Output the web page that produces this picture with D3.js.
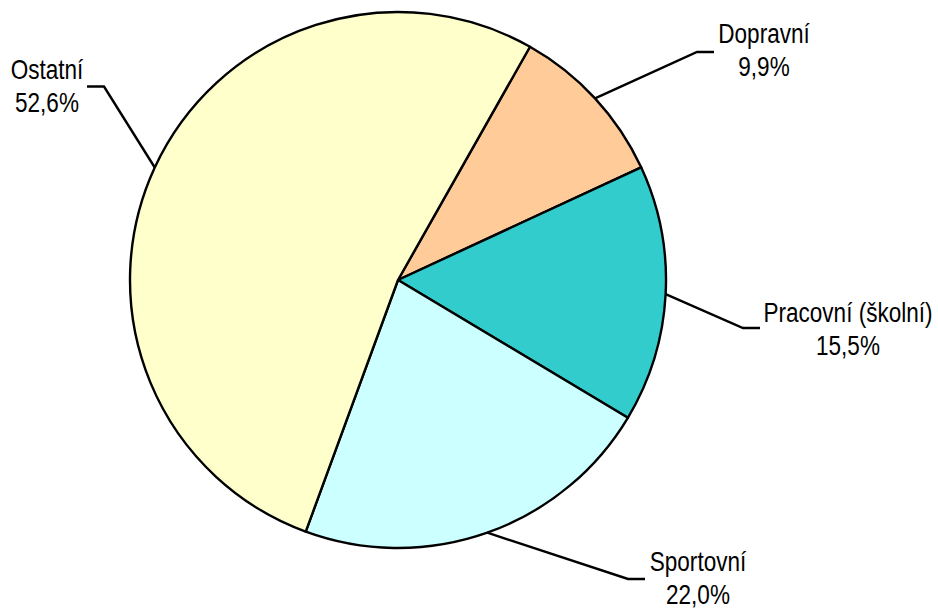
<!DOCTYPE html>
<html>
<head>
<meta charset="utf-8">
<script src="https://cdn.jsdelivr.net/npm/d3@7"></script>
<style>
  body { margin: 0; background: #fff; }
  svg { display: block; }
  .lbl { font-family: "Liberation Sans", Arial, sans-serif; font-size: 27.5px; fill: #000; }
</style>
</head>
<body>
<div id="chart"></div>
<script>
// data - urazy podle druhu
var categories = ["Dopravní", "Pracovní (školní)", "Sportovní", "Ostatní"];
var values = [9.9, 15.5, 22.0, 52.6];
var valueLabels = ["9,9%", "15,5%", "22,0%", "52,6%"];
var colors = ["#FFCC99", "#33CCCC", "#CCFFFF", "#FFFFCC"];

// rozmisteni popisku (stred textu, konec vodici cary)
var labelPos = [
    { tx: 764, ty: 43, lx: 714, ly: 52, dir: 1 },
    { tx: 848, ty: 322, lx: 760, ly: 328, dir: 1 },
    { tx: 698, ty: 571, lx: 645, ly: 579, dir: 1 },
    { tx: 47, ty: 79, lx: 87, ly: 86.5, dir: -1 }
];

var width = 938, height = 610;
var cx = 398, cy = 280, radius = 268;
var startAngle = 29.5 * Math.PI / 180;

var svg = d3.select('#chart').append('svg')
    .attr('width', width)
    .attr('height', height);

var pie = d3.pie()
    .sort(null)
    .startAngle(startAngle)
    .endAngle(startAngle + 2 * Math.PI)
    .value(function (d) { return d; });

var arc = d3.arc()
    .innerRadius(0)
    .outerRadius(radius);

var arcs = pie(values);

var g = svg.append('g')
    .attr('transform', 'translate(' + cx + ',' + cy + ')');

g.selectAll('path.slice')
    .data(arcs)
    .enter()
    .append('path')
    .attr('class', 'slice')
    .attr('d', arc)
    .attr('fill', function (d, i) { return colors[i]; })
    .attr('stroke', '#000')
    .attr('stroke-width', 2.4)
    .attr('stroke-linejoin', 'round');

// vodici cary
svg.selectAll('polyline.leader')
    .data(arcs)
    .enter()
    .append('polyline')
    .attr('class', 'leader')
    .attr('points', function (d, i) {
        var a = (d.startAngle + d.endAngle) / 2;
        var p = labelPos[i];
        var x0 = cx + radius * Math.sin(a), y0 = cy - radius * Math.cos(a);
        var ex = p.lx - p.dir * 17;
        return [[x0, y0], [ex, p.ly], [p.lx, p.ly]].map(function (q) { return q.join(','); }).join(' ');
    })
    .attr('fill', 'none')
    .attr('stroke', '#000')
    .attr('stroke-width', 2.4);

// popisky
var lbl = svg.selectAll('g.lbl')
    .data(arcs)
    .enter()
    .append('g')
    .attr('class', 'lbl')
    .attr('transform', function (d, i) {
        return 'translate(' + labelPos[i].tx + ',' + labelPos[i].ty + ') scale(0.82,1)';
    });

lbl.append('text')
    .attr('text-anchor', 'middle')
    .text(function (d, i) { return categories[i]; });

lbl.append('text')
    .attr('text-anchor', 'middle')
    .attr('y', 33.5)
    .text(function (d, i) { return valueLabels[i]; });
</script>
</body>
</html>
